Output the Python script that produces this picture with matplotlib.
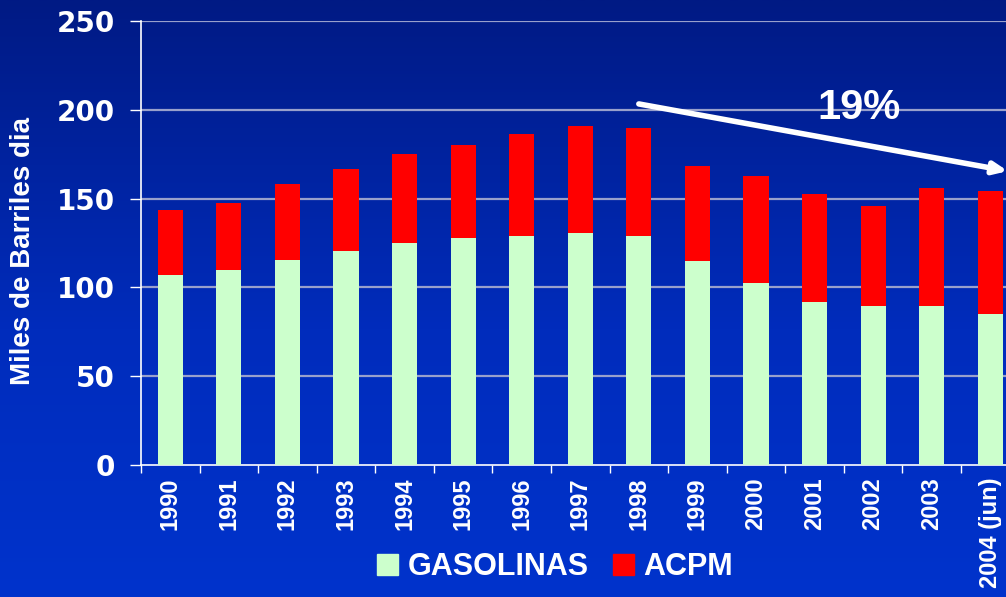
import numpy as np
import matplotlib
matplotlib.use("Agg")
import matplotlib.pyplot as plt
from matplotlib.colors import LinearSegmentedColormap
from matplotlib.patches import Patch

years = ["1990", "1991", "1992", "1993", "1994", "1995", "1996", "1997",
         "1998", "1999", "2000", "2001", "2002", "2003", "2004 (jun)"]
gasolinas = [107, 110, 115.5, 120.5, 125, 128, 129, 130.5, 129, 115, 102.5, 92, 89.5, 89.5, 85]
total = [143.5, 147.5, 158, 166.5, 175, 180, 186.5, 191, 189.5, 168.5, 162.5, 152.5, 146, 156, 154]
acpm = [t - g for t, g in zip(total, gasolinas)]
yticks = [0, 50, 100, 150, 200, 250]

W, H = 1006, 597
fig = plt.figure(figsize=(W / 100, H / 100), dpi=100)

# background gradient
bg = fig.add_axes([0, 0, 1, 1], zorder=-10)
cmap = LinearSegmentedColormap.from_list("bg", [(0, "#0033CC"), (0.45, "#002CBC"), (1.0, "#001A84")])
grad = np.linspace(0, 1, 256).reshape(-1, 1)
bg.imshow(grad, aspect="auto", cmap=cmap, origin="lower", extent=[0, 1, 0, 1])
bg.axis("off")

left_px, right_px = 141, 141 + 15 * 58.57
top_px, bot_px = 21, 465
ax = fig.add_axes([left_px / W, 1 - bot_px / H, (right_px - left_px) / W, (bot_px - top_px) / H])
ax.set_facecolor("none")

x = np.arange(len(years))
bw = 0.43
ax.bar(x, gasolinas, width=bw, color="#CCFFCC", zorder=3, label="GASOLINAS")
ax.bar(x, acpm, width=bw, bottom=gasolinas, color="#FF0000", zorder=3, label="ACPM")

ax.set_xlim(-0.5, len(years) - 0.5)
ax.set_ylim(0, 250)
ax.set_yticks(yticks)
ax.set_yticklabels([str(v) for v in yticks], fontsize=20, fontweight="bold",
                   color="white", family="DejaVu Sans")
for v in yticks[1:]:
    ax.axhline(v, color="#98A0CC", lw=1.6, zorder=1)

ax.set_xticks(np.arange(len(years) + 1) - 0.5, minor=False)
ax.set_xticklabels([])
ax.set_xticks(x, minor=True)
ax.set_xticklabels(years, minor=True, rotation=90, fontsize=17, fontweight="bold",
                   color="white", family="Liberation Sans", va="top", ha="center")
ax.tick_params(axis="x", which="major", length=6, color="white", width=1)
ax.tick_params(axis="x", which="minor", length=0, pad=9)
ax.tick_params(axis="y", length=8, color="white", width=1, pad=11)

for s in ["top", "right"]:
    ax.spines[s].set_visible(False)
for s in ["left", "bottom"]:
    ax.spines[s].set_color("white")
    ax.spines[s].set_linewidth(1.2)

fig.text(23 / W, 1 - 251 / H, "Miles de Barriles dia", rotation=90, ha="center", va="center",
         fontsize=20, fontweight="bold", color="white", family="Liberation Sans")

ax.annotate("", xy=(14.3, 165.5), xytext=(8.0, 203.3),
            arrowprops=dict(arrowstyle="-|>,head_length=0.8,head_width=0.35", color="white",
                            lw=4.0, shrinkA=0, shrinkB=0), zorder=5, annotation_clip=False)
ax.text(11.76, 201, "19%", ha="center", va="center", fontsize=30, fontweight="bold",
        color="white", family="Liberation Sans", zorder=5)

handles = [Patch(color="#CCFFCC"), Patch(color="#FF0000")]
fig.legend(handles, ["GASOLINAS", "ACPM"], loc="center", bbox_to_anchor=(555 / W, 1 - 567 / H),
           ncol=2, frameon=False, handlelength=0.7, handleheight=0.7, handletextpad=0.3,
           columnspacing=0.8, prop=dict(family="Liberation Sans", weight="bold", size=22),
           labelcolor="white")

fig.savefig("out.png", dpi=100)
